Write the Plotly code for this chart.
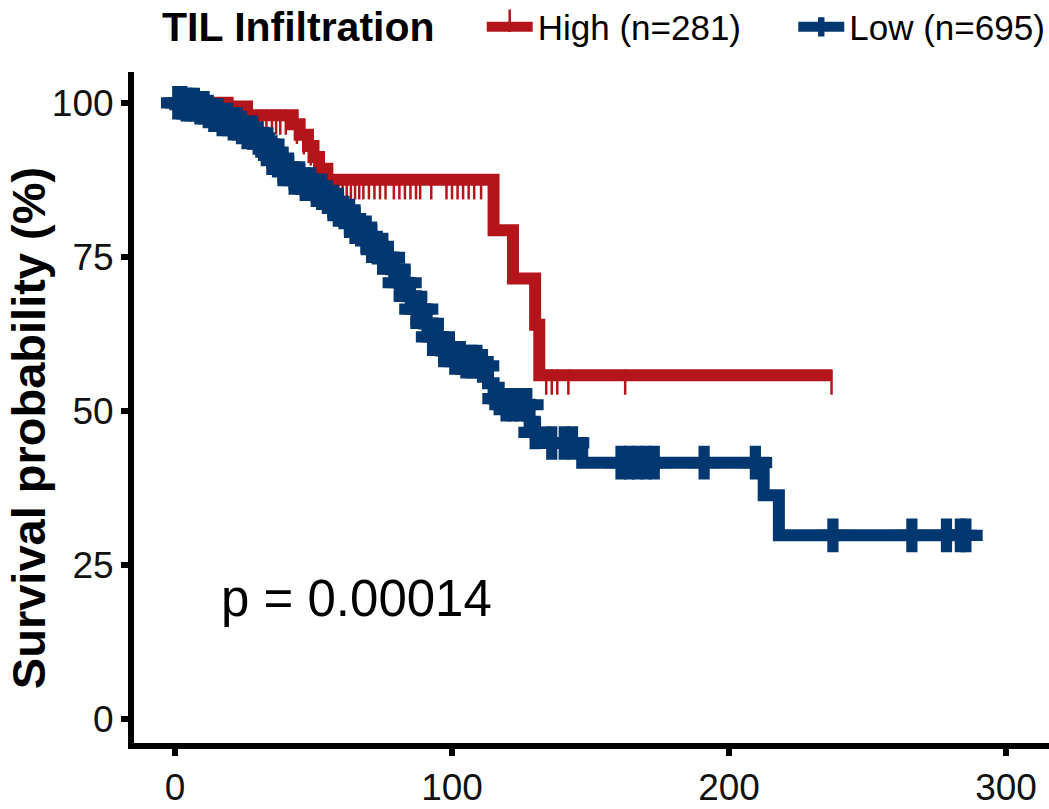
import numpy as np
import plotly.graph_objects as go

# Kaplan-Meier curves: time (months) of each step and survival (%) after it
high_time = [0, 19, 26, 42.5, 45, 48, 50, 52, 55, 115, 122, 130, 131.5, 237]
high_surv = [100, 99.4, 98.0, 96.5, 94.8, 93.0, 91.2, 89.3, 87.5, 79.3, 71.5, 64.0, 55.8, 55.8]
high_censor = [12, 20, 26, 28, 30, 31.5, 33, 35, 36.5, 38, 40, 44, 46.5, 49,
               56, 57.5, 59, 60.5, 62, 63.5, 65, 66.5, 68, 70, 72, 74, 76,
               79, 81, 83, 85, 87, 88.5, 92.5, 98, 100, 102, 104, 106, 108, 110.5,
               134, 136, 138, 142, 162.5, 237]

low_time = [0, 4, 8, 11, 14, 17, 20, 23, 26, 29, 32, 35, 37, 39, 42, 46, 50, 54,
            57, 60, 63, 66, 69, 72, 75, 78, 81, 84, 87, 90, 93, 96, 100, 105, 110,
            113, 115, 119, 128, 130, 132, 147, 212.5, 218, 285.5]
low_surv = [100, 99.7, 99.2, 98.6, 98.0, 97.3, 96.6, 96.0, 95.2, 94.3, 93.3, 92.0,
            90.6, 89.2, 87.8, 86.8, 85.8, 84.7, 83.5, 82.2, 80.8, 79.4, 78.0, 76.5,
            74.9, 73.0, 70.8, 68.6, 66.5, 64.2, 62.0, 59.8, 58.6, 58.0, 57.3, 54.5,
            52.0, 51.0, 48.0, 46.5, 44.8, 41.6, 36.3, 29.8, 29.8]
low_censor = [1, 2.5, 4, 5.5, 7, 9, 10.5, 12, 14, 15.5, 17, 19, 21, 22.5, 24, 26,
              28, 30, 32, 33.5, 35, 37, 39, 41, 43, 45, 47, 49, 51, 53, 55, 57, 59,
              61, 63, 65, 67, 69, 71, 73, 75, 77, 79, 81, 83, 85, 87, 89, 91, 93,
              95, 97, 99, 101, 103, 105, 107, 109, 111, 117, 119.5, 122, 124.5, 127,
              130, 136, 140.5, 143.5, 161, 164, 167, 170, 173, 191, 209.5, 237.5,
              266, 278.5, 283.5, 285.5]

group_names = ["High (n=281)", "Low (n=695)"]
legend_title = "TIL Infiltration"
red = "#B4151B"
blue = "#03376F"
p_label = "p = 0.00014"
FONT = "Liberation Sans, Arial, sans-serif"


def surv_at(times, surv, t):
    idx = np.searchsorted(np.asarray(times), np.asarray(t), side="right") - 1
    return np.asarray(surv)[idx]


fig = go.Figure()

# High group: step line + thin tick censor marks
fig.add_trace(go.Scatter(x=high_time, y=high_surv, mode="lines", line_shape="hv",
                         line=dict(color=red, width=12), showlegend=False,
                         hoverinfo="skip"))
fig.add_trace(go.Scatter(x=high_censor, y=surv_at(high_time, high_surv, high_censor),
                         mode="markers", showlegend=False, hoverinfo="skip",
                         marker=dict(symbol="line-ns", size=18, angle=0, standoff=7,
                                     line=dict(color=red, width=2.5))))

# Low group: step line + bold cross censor marks
fig.add_trace(go.Scatter(x=low_time, y=low_surv, mode="lines", line_shape="hv",
                         line=dict(color=blue, width=12), showlegend=False,
                         hoverinfo="skip"))
fig.add_trace(go.Scatter(x=low_censor, y=surv_at(low_time, low_surv, low_censor),
                         mode="markers", showlegend=False, hoverinfo="skip",
                         marker=dict(symbol="cross", size=28, color=blue,
                                     line=dict(width=0))))

# legend entries (one legend per group so the row keeps its spacing)
fig.add_trace(go.Scatter(x=[None], y=[None], mode="lines+markers", name=group_names[0],
                         line=dict(color=red, width=10), legend="legend",
                         marker=dict(symbol="line-ns", size=16, angle=0, standoff=6,
                                     line=dict(color=red, width=2.5))))
fig.add_trace(go.Scatter(x=[None], y=[None], mode="lines+markers", name=group_names[1],
                         line=dict(color=blue, width=10), legend="legend2",
                         marker=dict(symbol="cross", size=16, color=blue,
                                     line=dict(width=0))))

# legend heading
fig.add_annotation(x=0.0284, y=1.067, xref="paper", yref="paper",
                   text="<b>" + legend_title + "</b>", showarrow=False,
                   xanchor="left", yanchor="middle",
                   font=dict(family=FONT, size=41, color="black"))

fig.add_annotation(x=16, y=19.5, xref="x", yref="y", text=p_label, showarrow=False,
                   xanchor="left", yanchor="middle",
                   font=dict(family=FONT, size=51, color="black"))

# y-axis title
fig.add_annotation(x=-0.116, y=0.469, xref="paper", yref="paper",
                   text="<b>Survival probability (%)</b>", textangle=-90,
                   showarrow=False, xanchor="center", yanchor="middle",
                   font=dict(family=FONT, size=47, color="black"))

axis_common = dict(showline=True, linewidth=6, linecolor="black", ticks="outside",
                   ticklen=7, tickwidth=6, tickcolor="black", showgrid=False,
                   zeroline=False, tickfont=dict(family=FONT, size=37, color="#111111"))

legend_common = dict(orientation="h", xanchor="left", y=1.067, yanchor="middle",
                     itemwidth=46, bgcolor="rgba(0,0,0,0)",
                     font=dict(family=FONT, size=35, color="black"))

fig.update_layout(
    width=1049, height=809,
    margin=dict(l=134, r=0, t=72, b=66, autoexpand=False),
    paper_bgcolor="white", plot_bgcolor="white",
    font=dict(family=FONT, color="black"),
    xaxis=dict(range=[-14.8, 315.5], tickvals=[0, 100, 200, 300], **axis_common),
    yaxis=dict(range=[-3.9, 105.0], tickvals=[0, 25, 50, 75, 100], **axis_common),
    legend=dict(x=0.380, **legend_common),
    legend2=dict(x=0.7205, **legend_common),
)

fig.write_html("out.html")
